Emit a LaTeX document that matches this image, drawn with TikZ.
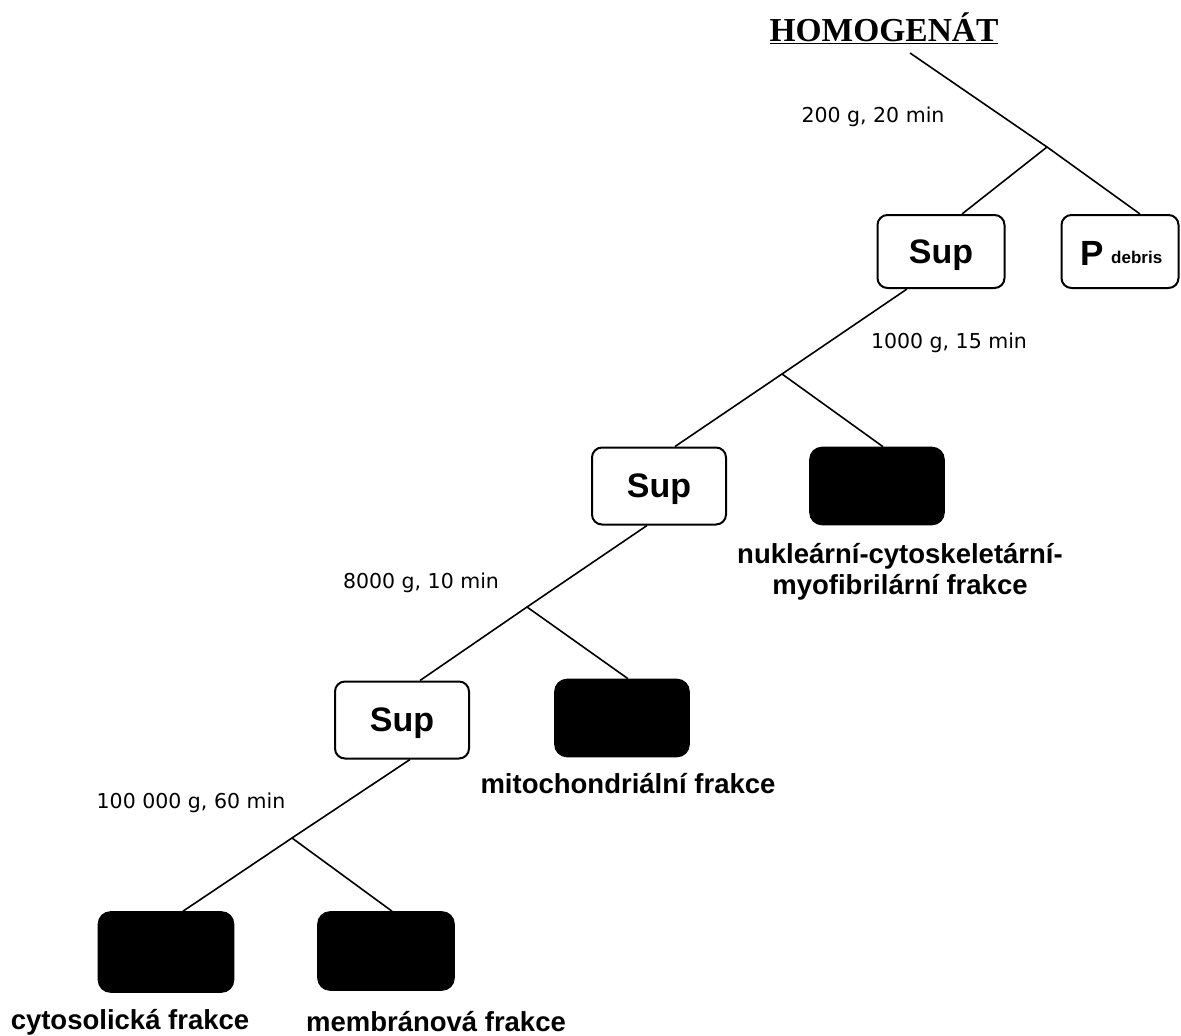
\documentclass[tikz,border=0pt]{standalone}
\usepackage{fontspec}
\setmainfont{Liberation Sans}
\newfontfamily\serifbold{Liberation Serif}
\newfontfamily\condfont{DejaVu Sans}
\usetikzlibrary{calc}
\begin{document}
\begin{tikzpicture}[x=1pt,y=-1pt,
  conn/.style={line width=1.6pt},
  supbox/.style={draw,line width=2pt,rounded corners=10pt,fill=white,minimum width=134pt,minimum height=77pt,inner sep=0pt,text depth=0pt,font=\fontsize{34}{38}\selectfont\bfseries},
  blkbox/.style={draw,line width=1.6pt,rounded corners=12pt,fill=black,minimum width=134pt,minimum height=77pt,inner sep=0pt},
  lbl/.style={font=\fontsize{27.5}{31}\selectfont\bfseries,align=center,inner sep=0pt},
  cond/.style={font=\condfont\fontsize{20.5}{24}\selectfont,inner sep=0pt}
]
\useasboundingbox (0,0) rectangle (1181,1036);

% title
\node[inner sep=0pt,font=\serifbold\fontsize{33.5}{38}\selectfont\bfseries] (title) at (884,28) {\underline{HOMOGENÁT}};

% level 1
\node[supbox,minimum width=127pt,minimum height=73pt] (sup1) at (941,251.5) {Sup};
\node[supbox,minimum width=117pt,minimum height=73pt] (pdeb) at (1120,251.5) {};
\node[inner sep=0pt,font=\fontsize{35}{38}\selectfont\bfseries,anchor=base west] (pP) at (1080,265) {P};
\node[inner sep=0pt,font=\fontsize{17}{20}\selectfont\bfseries,anchor=base west] (pdebtxt) at (1111,263) {debris};
\node[cond] (c1) at (873,117) {200 g, 20 min};
\coordinate (t0) at (910,53);
\coordinate (b1) at (1047,147);
\draw[conn] (t0) -- (b1) -- ([xshift=20pt]pdeb.north);
\draw[conn] (b1) -- ([xshift=21pt]sup1.north);

% level 2
\node[supbox] (sup2) at (659,486) {Sup};
\node[blkbox] (blk1) at (877,486) {};
\node[lbl] (l1) at (900,572) {nukleární-cytoskeletární-\\myofibrilární frakce};
\node[cond] (c2) at (949,343) {1000 g, 15 min};
\coordinate (b2) at (782,374);
\draw[conn] ([xshift=-34pt]sup1.south) -- (b2) -- ([xshift=16pt]sup2.north);
\draw[conn] (b2) -- ([xshift=6pt]blk1.north);

% level 3
\node[supbox] (sup3) at (402,720) {Sup};
\node[blkbox] (blk2) at (622,718) {};
\node[lbl] (l2) at (628,784) {mitochondriální frakce};
\node[cond] (c3) at (421,583) {8000 g, 10 min};
\coordinate (b3) at (527,607);
\draw[conn] ([xshift=-12pt]sup2.south) -- (b3) -- ([xshift=18pt]sup3.north);
\draw[conn] (b3) -- ([xshift=6pt]blk2.north);

% level 4
\node[blkbox,minimum width=135pt,minimum height=80pt] (blk3) at (166,952) {};
\node[blkbox,minimum width=136pt,minimum height=78pt] (blk4) at (386,951) {};
\node[lbl] (l3) at (130,1022) {cytosolická frakce};
\node[lbl] (l4) at (436,1022) {membránová frakce};
\node[cond] (c4) at (191,803) {100 000 g, 60 min};
\coordinate (b4) at (292,838);
\draw[conn] ([xshift=8pt]sup3.south) -- (b4) -- ([xshift=17pt]blk3.north);
\draw[conn] (b4) -- ([xshift=6pt]blk4.north);
\end{tikzpicture}
\end{document}
